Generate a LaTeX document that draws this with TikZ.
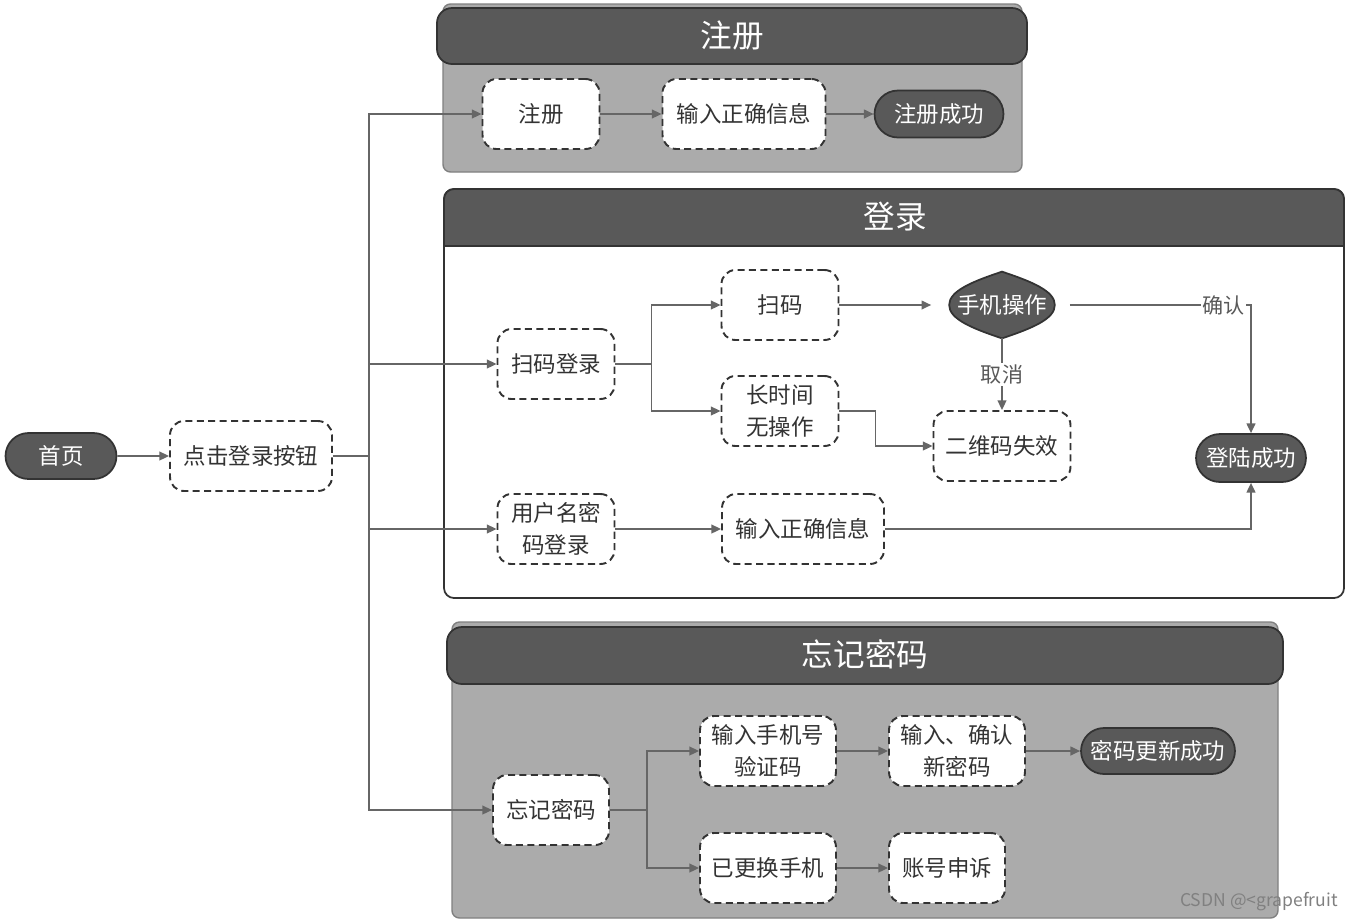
\documentclass[tikz,border=0pt]{standalone}
\usepackage{fontspec}
\setmainfont{Noto Sans CJK SC}
\usetikzlibrary{arrows.meta,shapes.misc,shapes.geometric}
\definecolor{hdrgray}{RGB}{89,89,89}
\definecolor{panelgray}{RGB}{171,171,171}
\definecolor{linegray}{RGB}{102,102,102}
\definecolor{inkgray}{RGB}{51,51,51}

\tikzset{
    stepbox/.style={draw=inkgray, line width=1.1pt, dash pattern=on 4pt off 2.5pt,
        rounded corners=0.28cm, fill=white, text=inkgray, align=center,
        minimum width=2.34cm, minimum height=1.4cm, inner sep=2pt,
        font=\fontsize{12.8}{18}\selectfont},
    endpill/.style={rounded rectangle, draw=inkgray, line width=1pt, fill=hdrgray,
        text=white, minimum height=0.94cm, inner sep=2pt,
        font=\fontsize{12.8}{18}\selectfont},
    decide/.style={diamond, minimum width=2.1cm, minimum height=1.32cm, inner sep=0pt},
    decidetext/.style={text=white, inner sep=0pt, font=\fontsize{12.8}{18}\selectfont},
    flow/.style={draw=linegray, line width=0.9pt, -{Triangle[length=5.5pt,width=5pt]}},
    link/.style={draw=linegray, line width=0.9pt},
    paneltitle/.style={text=white, font=\fontsize{18}{20}\selectfont},
    edgetext/.style={fill=white, text=hdrgray, inner sep=1pt, font=\fontsize{12}{14}\selectfont}
}

\begin{document}
\begin{tikzpicture}[x=0.02cm, y=-0.02cm]
    \useasboundingbox (0,0) rectangle (1347,921);

    % panels
    \draw[gray, line width=0.8pt, fill=panelgray, rounded corners=0.15cm] (443,4) rectangle (1022,172);
    \draw[inkgray, line width=1pt, fill=hdrgray, rounded corners=0.3cm] (437,8) rectangle (1027,64);
    \node[paneltitle] (regtitle) at (732,36) {注册};

    \draw[inkgray, line width=1pt, fill=white, rounded corners=0.2cm] (444,189) rectangle (1344,598);
    \draw[inkgray, line width=1pt, fill=hdrgray] (444,246) [rounded corners=0.2cm] -- (444,189)
        -- (1344,189) [sharp corners] -- (1344,246) -- cycle;
    \node[paneltitle] (logintitle) at (895,217) {登录};

    \draw[gray, line width=0.8pt, fill=panelgray, rounded corners=0.15cm] (452,622) rectangle (1278,918);
    \draw[inkgray, line width=1pt, fill=hdrgray, rounded corners=0.3cm] (447,627) rectangle (1283,684);
    \node[paneltitle] (forgettitle) at (865,654) {忘记密码};

    % entry
    \node[endpill, minimum width=2.36cm, minimum height=0.92cm] (home) at (61,456) {首页};
    \node[stepbox, minimum width=3.24cm] (click) at (251,456) {点击登录按钮};

    % register
    \node[stepbox] (reg) at (541,114) {注册};
    \node[stepbox, minimum width=3.26cm] (reginfo) at (744,114) {输入正确信息};
    \node[endpill, minimum width=2.72cm] (regok) at (939,114) {注册成功};

    % login
    \node[stepbox] (scanlogin) at (556,364) {扫码登录};
    \node[stepbox] (scan) at (780,305) {扫码};
    \node[stepbox] (idle) at (780,411) {长时间\\无操作};
    \node[decide] (phone) at (1002,305) {};
    \filldraw[fill=hdrgray, draw=inkgray, line width=1pt]
        (phone.west) .. controls +(0,-14) and +(-30,10) .. (phone.north)
        .. controls +(30,10) and +(0,-14) .. (phone.east)
        .. controls +(0,14) and +(30,-10) .. (phone.south)
        .. controls +(-30,-10) and +(0,14) .. (phone.west) -- cycle;
    \node[decidetext] (phonetext) at (phone) {手机操作};
    \node[stepbox, minimum width=2.74cm] (qrfail) at (1002,446) {二维码失效};
    \node[endpill, minimum width=2.34cm, minimum height=0.96cm] (loginok) at (1251,458) {登陆成功};
    \node[stepbox] (userlogin) at (556,529) {用户名密\\码登录};
    \node[stepbox, minimum width=3.24cm] (logininfo) at (803,529) {输入正确信息};

    % forget password
    \node[stepbox, minimum width=2.32cm] (forget) at (551,810) {忘记密码};
    \node[stepbox, minimum width=2.72cm] (phonecode) at (768,751) {输入手机号\\验证码};
    \node[stepbox, minimum width=2.72cm] (newpwd) at (957,751) {输入、确认\\新密码};
    \node[endpill, minimum width=3.22cm, minimum height=0.92cm] (pwdok) at (1158,751) {密码更新成功};
    \node[stepbox, minimum width=2.72cm] (newphone) at (768,868) {已更换手机};
    \node[stepbox, minimum width=2.32cm] (appeal) at (947,868) {账号申诉};

    % connectors
    \draw[flow] (home) -- (click);
    \draw[link] (click.east) -- ++(36,0) coordinate (trunk);
    \draw[flow] (trunk) |- (reg.west);
    \draw[flow] (trunk) |- (scanlogin.west);
    \draw[flow] (trunk) |- (userlogin.west);
    \draw[flow] (trunk) |- (forget.west);

    \draw[flow] (reg) -- (reginfo);
    \draw[flow] (reginfo) -- (regok);

    \draw[link] (scanlogin.east) -- ++(36,0) coordinate (scansplit);
    \draw[flow] (scansplit) |- (scan.west);
    \draw[flow] (scansplit) |- (idle.west);
    \draw[flow, shorten >=0.36cm] (scan.east) -- (phone.west);
    \draw[flow, shorten <=0.3cm] (phone.east) -| node[pos=0.43, edgetext] (oklabel) {确认} (loginok.north);
    \draw[flow] (phone.south) -- node[edgetext] (cancellabel) {取消} (qrfail.north);
    \draw[flow] (idle.east) -- ++(36,0) |- (qrfail.west);
    \draw[flow] (userlogin) -- (logininfo);
    \draw[flow] (logininfo.east) -| (loginok.south);

    \draw[link] (forget.east) -- ++(37,0) coordinate (forgetsplit);
    \draw[flow] (forgetsplit) |- (phonecode.west);
    \draw[flow] (forgetsplit) |- (newphone.west);
    \draw[flow] (phonecode) -- (newpwd);
    \draw[flow] (newpwd) -- (pwdok);
    \draw[flow] (newphone) -- (appeal);

    \node[text=gray, font=\fontsize{10}{12}\selectfont] (mark) at (1259,902) {CSDN @<grapefruit};
\end{tikzpicture}
\end{document}
